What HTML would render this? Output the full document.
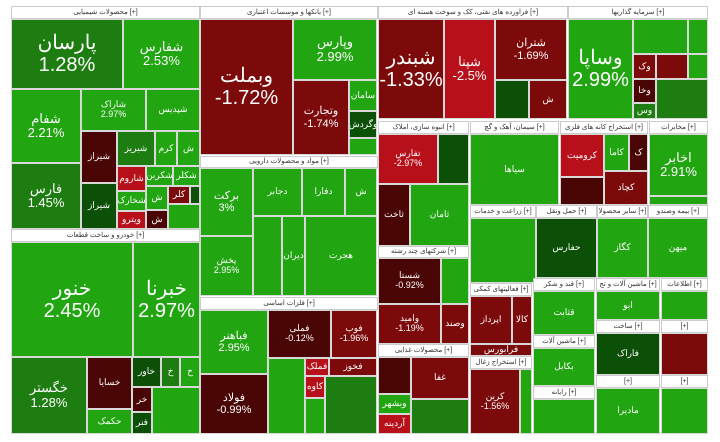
<!DOCTYPE html>
<html><head><meta charset="utf-8"><style>
body{margin:0;width:720px;height:442px;background:#fff;position:relative;overflow:hidden;font-family:"Liberation Sans","Noto Sans CJK SC",sans-serif}
div{position:absolute;box-sizing:border-box;border:1px solid #d8d8d8;color:#fff;text-align:center;display:flex;align-items:center;justify-content:center;flex-direction:column;overflow:hidden;font-size:9px;line-height:1.1}
.h{background:#fff;color:#333;font-size:7px;border:1px solid #ccc}
.G{background:#21a511}.M{background:#1e7d10}.D{background:#0c4f07}
.R{background:#b8101a}.K{background:#7c0a0a}.X{background:#4a0505}
.b{font-size:20px}.m{font-size:13px}
</style></head><body>
<!-- chemicals -->
<div class="h" style="left:11px;top:6px;width:189px;height:13px">محصولات شیمیایی [+]</div>
<div class="M b" style="left:11px;top:19px;width:112px;height:70px">پارسان<br>1.28%</div>
<div class="G m" style="left:123px;top:19px;width:77px;height:70px">شفارس<br>2.53%</div>
<div class="G m" style="left:11px;top:89px;width:70px;height:74px">شفام<br>2.21%</div>
<div class="G" style="left:81px;top:89px;width:65px;height:42px">شاراک<br>2.97%</div>
<div class="G" style="left:146px;top:89px;width:54px;height:42px">شپدیس</div>
<div class="M m" style="left:11px;top:163px;width:70px;height:66px">فارس<br>1.45%</div>
<div class="X" style="left:81px;top:131px;width:36px;height:52px">شیراز</div>
<div class="D" style="left:81px;top:183px;width:36px;height:46px">شیراز</div>
<div class="M" style="left:117px;top:131px;width:38px;height:35px">شبریز</div>
<div class="G" style="left:155px;top:131px;width:22px;height:35px">کرم</div>
<div class="G" style="left:177px;top:131px;width:23px;height:35px">ش</div>
<div class="R" style="left:117px;top:166px;width:29px;height:25px">شاروم</div>
<div class="G" style="left:146px;top:166px;width:27px;height:20px">شکربن</div>
<div class="G" style="left:173px;top:166px;width:27px;height:20px">شکلر</div>
<div class="G" style="left:117px;top:191px;width:29px;height:20px">شخارک</div>
<div class="R" style="left:117px;top:211px;width:29px;height:18px">ویترو</div>
<div class="G" style="left:146px;top:186px;width:22px;height:24px">ش</div>
<div class="X" style="left:146px;top:210px;width:22px;height:19px">ش</div>
<div class="K" style="left:168px;top:186px;width:22px;height:18px">کلر</div>
<div class="D" style="left:190px;top:186px;width:10px;height:18px"></div>
<div class="G" style="left:168px;top:204px;width:32px;height:25px"></div>
<!-- banks -->
<div class="h" style="left:200px;top:6px;width:178px;height:13px">بانکها و موسسات اعتباری [+]</div>
<div class="K b" style="left:200px;top:19px;width:93px;height:136px">وبملت<br>-1.72%</div>
<div class="G m" style="left:293px;top:19px;width:84px;height:61px">وپارس<br>2.99%</div>
<div class="K" style="left:293px;top:80px;width:56px;height:75px;font-size:11px">وتجارت<br>-1.74%</div>
<div class="G" style="left:349px;top:80px;width:28px;height:31px">سامان</div>
<div class="D" style="left:349px;top:111px;width:28px;height:27px">وگردش</div>
<div class="G" style="left:349px;top:138px;width:28px;height:17px"></div>
<!-- pharma -->
<div class="h" style="left:200px;top:156px;width:178px;height:12px">مواد و محصولات دارویی [+]</div>
<div class="G" style="left:200px;top:168px;width:53px;height:68px;font-size:11px">برکت<br>3%</div>
<div class="G" style="left:200px;top:236px;width:53px;height:60px">پخش<br>2.95%</div>
<div class="G" style="left:253px;top:168px;width:49px;height:48px">دجابر</div>
<div class="G" style="left:302px;top:168px;width:43px;height:48px">دفارا</div>
<div class="G" style="left:345px;top:168px;width:32px;height:48px">ش</div>
<div class="G" style="left:253px;top:216px;width:29px;height:80px"></div>
<div class="G" style="left:282px;top:216px;width:23px;height:80px">دیران</div>
<div class="G" style="left:305px;top:216px;width:72px;height:80px">هجرت</div>
<!-- metals -->
<div class="h" style="left:200px;top:297px;width:178px;height:13px">فلزات اساسی [+]</div>
<div class="G" style="left:200px;top:310px;width:68px;height:64px;font-size:11px">فباهنر<br>2.95%</div>
<div class="X" style="left:200px;top:374px;width:68px;height:60px;font-size:11px">فولاد<br>-0.99%</div>
<div class="X" style="left:268px;top:310px;width:63px;height:48px">فملی<br>-0.12%</div>
<div class="K" style="left:331px;top:310px;width:46px;height:48px">فوب<br>-1.96%</div>
<div class="G" style="left:268px;top:358px;width:37px;height:76px"></div>
<div class="R" style="left:305px;top:358px;width:24px;height:18px">فملک</div>
<div class="K" style="left:329px;top:358px;width:48px;height:18px">فخوز</div>
<div class="R" style="left:305px;top:376px;width:20px;height:22px">کاوه</div>
<div class="M" style="left:325px;top:376px;width:52px;height:58px"></div>
<div class="G" style="left:305px;top:398px;width:20px;height:36px"></div>
<!-- auto -->
<div class="h" style="left:11px;top:229px;width:189px;height:13px">خودرو و ساخت قطعات [+]</div>
<div class="G b" style="left:11px;top:242px;width:122px;height:115px">خنور<br>2.45%</div>
<div class="G b" style="left:133px;top:242px;width:67px;height:115px">خبرنا<br>2.97%</div>
<div class="M m" style="left:11px;top:357px;width:76px;height:77px">خگستر<br>1.28%</div>
<div class="X" style="left:87px;top:357px;width:45px;height:52px">خسایا</div>
<div class="G" style="left:87px;top:409px;width:45px;height:25px">حکمک</div>
<div class="D" style="left:132px;top:357px;width:29px;height:30px">خاور</div>
<div class="M" style="left:161px;top:357px;width:19px;height:30px">خ</div>
<div class="G" style="left:180px;top:357px;width:20px;height:30px">خ</div>
<div class="X" style="left:132px;top:387px;width:20px;height:25px">خر</div>
<div class="D" style="left:132px;top:412px;width:20px;height:22px">فنر</div>
<div class="G" style="left:152px;top:387px;width:48px;height:47px"></div>
<!-- oil -->
<div class="h" style="left:378px;top:6px;width:190px;height:13px">فراورده های نفتی، کک و سوخت هسته ای [+]</div>
<div class="K b" style="left:378px;top:19px;width:66px;height:100px">شبندر<br>-1.33%</div>
<div class="R m" style="left:444px;top:19px;width:51px;height:100px">شپنا<br>-2.5%</div>
<div class="K" style="left:495px;top:19px;width:72px;height:61px;font-size:11px">شتران<br>-1.69%</div>
<div class="D" style="left:495px;top:80px;width:34px;height:39px"></div>
<div class="K" style="left:529px;top:80px;width:38px;height:39px">ش</div>
<!-- investments -->
<div class="h" style="left:568px;top:6px;width:140px;height:13px">سرمایه گذاریها [+]</div>
<div class="G b" style="left:568px;top:19px;width:65px;height:100px">وساپا<br>2.99%</div>
<div class="G" style="left:633px;top:19px;width:55px;height:35px"></div>
<div class="G" style="left:688px;top:19px;width:20px;height:35px"></div>
<div class="K" style="left:633px;top:54px;width:23px;height:25px">وک</div>
<div class="K" style="left:656px;top:54px;width:32px;height:25px"></div>
<div class="G" style="left:688px;top:54px;width:20px;height:25px"></div>
<div class="X" style="left:633px;top:79px;width:23px;height:24px">وخا</div>
<div class="M" style="left:656px;top:79px;width:52px;height:40px"></div>
<div class="M" style="left:633px;top:103px;width:23px;height:16px">وس</div>
<!-- second row right -->
<div class="h" style="left:378px;top:121px;width:91px;height:13px">انبوه سازی، املاک [+]</div>
<div class="R" style="left:378px;top:134px;width:60px;height:50px">تفارس<br>-2.97%</div>
<div class="D" style="left:438px;top:134px;width:31px;height:50px"></div>
<div class="X" style="left:378px;top:184px;width:32px;height:62px">ثاخت</div>
<div class="G" style="left:410px;top:184px;width:59px;height:62px">ثامان</div>
<div class="h" style="left:470px;top:121px;width:89px;height:13px">سیمان، آهک و گچ [+]</div>
<div class="G" style="left:470px;top:134px;width:89px;height:71px">سیاها</div>
<div class="h" style="left:560px;top:121px;width:88px;height:13px">استخراج کانه های فلزی [+]</div>
<div class="R" style="left:560px;top:134px;width:44px;height:43px">کرومیت</div>
<div class="G" style="left:604px;top:134px;width:25px;height:37px">کاما</div>
<div class="X" style="left:629px;top:134px;width:19px;height:37px">ک</div>
<div class="X" style="left:560px;top:177px;width:44px;height:28px"></div>
<div class="K" style="left:604px;top:171px;width:44px;height:34px">کچاد</div>
<div class="h" style="left:649px;top:121px;width:59px;height:13px">مخابرات [+]</div>
<div class="G m" style="left:649px;top:134px;width:59px;height:62px">اخابر<br>2.91%</div>
<div class="G" style="left:649px;top:196px;width:59px;height:9px"></div>
<div class="h" style="left:470px;top:205px;width:66px;height:13px">زراعت و خدمات [+]</div>
<div class="G" style="left:470px;top:218px;width:66px;height:65px"></div>
<div class="h" style="left:536px;top:205px;width:61px;height:13px">حمل ونقل [+]</div>
<div class="D" style="left:536px;top:218px;width:61px;height:60px">حفارس</div>
<div class="h" style="left:597px;top:205px;width:51px;height:13px">سایر محصولا [+]</div>
<div class="G" style="left:597px;top:218px;width:51px;height:60px">کگاز</div>
<div class="h" style="left:648px;top:205px;width:60px;height:13px">بیمه وصندو [+]</div>
<div class="G" style="left:648px;top:218px;width:60px;height:60px">میهن</div>
<div class="h" style="left:378px;top:246px;width:91px;height:12px">شرکتهای چند رشته [+]</div>
<div class="X" style="left:378px;top:258px;width:63px;height:46px">شستا<br>-0.92%</div>
<div class="G" style="left:441px;top:258px;width:28px;height:46px"></div>
<div class="K" style="left:378px;top:304px;width:63px;height:40px">وامید<br>-1.19%</div>
<div class="K" style="left:441px;top:304px;width:28px;height:40px">وصند</div>
<div class="h" style="left:378px;top:344px;width:91px;height:13px">محصولات غذایی [+]</div>
<div class="X" style="left:378px;top:357px;width:33px;height:37px"></div>
<div class="K" style="left:411px;top:357px;width:58px;height:42px">غفا</div>
<div class="G" style="left:378px;top:394px;width:33px;height:20px">وبشهر</div>
<div class="R" style="left:378px;top:414px;width:33px;height:20px">آردینه</div>
<div class="M" style="left:411px;top:399px;width:58px;height:35px"></div>
<div class="h" style="left:470px;top:283px;width:62px;height:13px">فعالیتهای کمکی [+]</div>
<div class="K" style="left:470px;top:296px;width:42px;height:48px">اپرداز</div>
<div class="K" style="left:512px;top:296px;width:20px;height:48px">کالا</div>
<div class="K" style="left:470px;top:344px;width:62px;height:12px">فرابورس</div>
<div class="h" style="left:470px;top:356px;width:62px;height:13px">استخراج زغال [+]</div>
<div class="K" style="left:470px;top:369px;width:50px;height:65px">کرین<br>-1.56%</div>
<div class="G" style="left:520px;top:369px;width:12px;height:65px"></div>
<div class="h" style="left:533px;top:278px;width:62px;height:13px">قند و شکر [+]</div>
<div class="G" style="left:533px;top:291px;width:62px;height:44px">قثابت</div>
<div class="h" style="left:533px;top:335px;width:62px;height:13px">ماشین آلات [+]</div>
<div class="G" style="left:533px;top:348px;width:62px;height:38px">بکابل</div>
<div class="h" style="left:533px;top:386px;width:62px;height:13px">رایانه [+]</div>
<div class="G" style="left:533px;top:399px;width:62px;height:35px"></div>
<div class="h" style="left:596px;top:278px;width:64px;height:13px">ماشین آلات و تج [+]</div>
<div class="G" style="left:596px;top:291px;width:64px;height:29px">ابو</div>
<div class="h" style="left:596px;top:320px;width:64px;height:13px">ساخت [+]</div>
<div class="D" style="left:596px;top:333px;width:64px;height:42px">فاراک</div>
<div class="h" style="left:596px;top:375px;width:64px;height:13px">[+]</div>
<div class="G" style="left:596px;top:388px;width:64px;height:46px">مادیرا</div>
<div class="h" style="left:661px;top:278px;width:47px;height:13px">اطلاعات [+]</div>
<div class="G" style="left:661px;top:291px;width:47px;height:29px"></div>
<div class="h" style="left:661px;top:320px;width:47px;height:13px">[+]</div>
<div class="K" style="left:661px;top:333px;width:47px;height:42px"></div>
<div class="h" style="left:661px;top:375px;width:47px;height:13px">[+]</div>
<div class="G" style="left:661px;top:388px;width:47px;height:46px"></div>
</body></html>
